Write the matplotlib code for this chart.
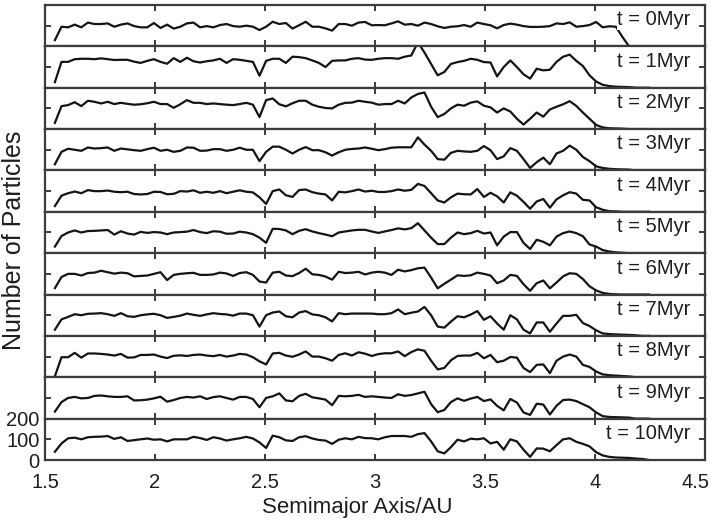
import numpy as np
import matplotlib
matplotlib.use("Agg")
import matplotlib.pyplot as plt
from matplotlib.transforms import ScaledTranslation

plt.rcParams['font.family'] = ['Liberation Sans', 'DejaVu Sans']

# Histogram bins in semimajor axis (AU): bin centres, 0.03 AU wide
bin_start = 1.545
bin_width = 0.03
n_bins = 91
semimajor = bin_start + bin_width * np.arange(n_bins)

time_labels = ["t = 0Myr", "t = 1Myr", "t = 2Myr", "t = 3Myr", "t = 4Myr",
               "t = 5Myr", "t = 6Myr", "t = 7Myr", "t = 8Myr", "t = 9Myr",
               "t = 10Myr"]

counts_0 = [30, 95, 92, 105, 92, 115, 108, 108, 111, 95,
            105, 111, 98, 92, 92, 113, 89, 105, 86, 95,
            111, 115, 92, 98, 92, 103, 108, 98, 95, 100,
            95, 79, 95, 119, 108, 113, 86, 102, 119, 95,
            95, 87, 76, 108, 108, 100, 115, 118, 102, 103,
            102, 111, 121, 105, 108, 100, 115, 108, 97, 89,
            95, 97, 103, 95, 115, 108, 102, 87, 103, 110,
            105, 98, 94, 94, 95, 98, 111, 108, 116, 95,
            98, 103, 118, 92, 97, 95, 45, 0, 0, 0, 0]
counts_1 = [27, 125, 125, 138, 140, 140, 138, 142, 138, 134,
            135, 135, 126, 120, 130, 138, 125, 116, 143, 125,
            145, 128, 122, 128, 132, 140, 120, 138, 135, 130,
            125, 58, 130, 140, 140, 120, 150, 148, 143, 132,
            120, 100, 130, 132, 132, 140, 143, 136, 135, 140,
            143, 143, 140, 150, 156, 220, 170, 115, 60, 76,
            115, 124, 130, 140, 135, 124, 122, 55, 100, 132,
            100, 65, 44, 92, 84, 87, 125, 150, 160, 130,
            105, 60, 30, 14, 8, 5, 4, 3, 0, 0, 0]
counts_2 = [30, 111, 116, 130, 111, 137, 132, 124, 132, 121,
            127, 122, 118, 120, 125, 132, 121, 121, 103, 120,
            140, 127, 127, 121, 124, 121, 118, 116, 121, 127,
            118, 58, 140, 148, 120, 110, 125, 137, 137, 118,
            108, 102, 100, 118, 127, 128, 137, 132, 128, 118,
            121, 121, 137, 124, 153, 170, 177, 108, 58, 73,
            100, 118, 113, 128, 134, 113, 105, 80, 100, 85,
            50, 22, 50, 80, 60, 95, 108, 120, 135, 112,
            80, 50, 20, 8, 4, 3, 2, 0, 0, 0, 0]
counts_3 = [30, 90, 105, 100, 95, 111, 106, 108, 111, 95,
            106, 102, 98, 95, 103, 110, 95, 100, 90, 95,
            111, 110, 95, 96, 103, 103, 95, 100, 110, 100,
            100, 45, 90, 115, 115, 100, 82, 100, 113, 98,
            98, 88, 72, 88, 100, 104, 106, 111, 105, 98,
            103, 110, 112, 112, 112, 160, 125, 95, 55, 52,
            85, 95, 92, 90, 95, 118, 98, 55, 68, 108,
            95, 55, 12, 40, 62, 30, 82, 95, 120, 100,
            65, 45, 20, 12, 8, 6, 5, 4, 0, 0, 0]
counts_4 = [28, 78, 90, 98, 90, 105, 100, 100, 103, 97,
            95, 97, 86, 84, 86, 97, 96, 85, 87, 100,
            98, 104, 92, 97, 92, 100, 90, 97, 104, 97,
            94, 70, 38, 100, 108, 80, 72, 105, 108, 95,
            88, 84, 55, 97, 94, 100, 108, 98, 102, 96,
            96, 100, 108, 102, 106, 135, 125, 90, 55, 45,
            70, 88, 85, 84, 110, 72, 92, 75, 45, 94,
            78, 48, 15, 50, 62, 20, 60, 80, 95, 88,
            58, 55, 22, 10, 3, 2, 0, 0, 0, 0, 0]
counts_5 = [32, 83, 100, 110, 100, 107, 108, 110, 112, 90,
            106, 95, 90, 103, 98, 102, 100, 92, 100, 102,
            104, 112, 102, 97, 106, 104, 94, 95, 104, 100,
            92, 75, 50, 118, 117, 110, 92, 108, 116, 105,
            97, 90, 82, 100, 105, 110, 113, 113, 105, 98,
            105, 112, 120, 115, 121, 145, 110, 75, 44, 44,
            75, 100, 92, 97, 108, 95, 100, 38, 80, 102,
            102, 50, 20, 65, 55, 38, 80, 97, 105, 97,
            82, 42, 32, 15, 8, 4, 2, 0, 0, 0, 0]
counts_6 = [31, 85, 100, 100, 92, 104, 106, 115, 108, 101,
            106, 103, 88, 90, 92, 100, 108, 70, 95, 100,
            103, 105, 95, 95, 97, 106, 102, 90, 104, 108,
            95, 63, 58, 106, 110, 92, 89, 104, 125, 98,
            95, 87, 72, 110, 104, 106, 110, 97, 106, 110,
            106, 95, 120, 112, 118, 127, 130, 82, 30, 52,
            72, 93, 90, 93, 106, 100, 92, 55, 68, 95,
            90, 50, 18, 55, 68, 30, 58, 88, 103, 100,
            75, 40, 20, 8, 3, 1, 0, 0, 0, 0, 0]
counts_7 = [30, 80, 92, 105, 100, 107, 108, 110, 105, 97,
            110, 95, 92, 100, 104, 107, 100, 87, 92, 98,
            108, 102, 97, 104, 110, 106, 104, 98, 108, 108,
            100, 45, 100, 113, 118, 95, 90, 113, 120, 104,
            100, 90, 70, 110, 105, 108, 108, 108, 108, 105,
            105, 110, 128, 105, 112, 118, 140, 100, 45, 40,
            69, 95, 90, 103, 120, 78, 95, 60, 30, 100,
            80, 30, 12, 65, 65, 20, 60, 97, 97, 102,
            62, 48, 27, 12, 9, 7, 6, 5, 3, 0, 0]
counts_8 = [5, 97, 97, 118, 95, 115, 115, 113, 110, 105,
            113, 95, 96, 108, 108, 110, 100, 93, 104, 106,
            103, 108, 110, 105, 102, 108, 100, 105, 113, 110,
            97, 77, 62, 115, 118, 105, 99, 110, 125, 100,
            100, 92, 80, 108, 116, 105, 121, 114, 103, 112,
            116, 116, 125, 102, 122, 135, 128, 80, 38, 45,
            82, 103, 105, 105, 118, 92, 108, 73, 80, 98,
            95, 45, 25, 60, 62, 20, 80, 100, 110, 100,
            60, 50, 28, 14, 10, 8, 6, 4, 0, 0, 0]
counts_9 = [34, 80, 100, 105, 98, 100, 110, 112, 108, 105,
            105, 108, 88, 89, 92, 98, 106, 82, 90, 100,
            105, 102, 108, 95, 104, 108, 100, 92, 105, 105,
            95, 55, 100, 108, 122, 88, 84, 110, 120, 103,
            98, 92, 65, 110, 108, 110, 115, 105, 108, 105,
            102, 100, 118, 110, 114, 122, 130, 70, 31, 42,
            80, 98, 86, 97, 105, 85, 93, 62, 40, 95,
            78, 30, 18, 72, 68, 20, 62, 90, 92, 85,
            70, 55, 30, 12, 8, 7, 6, 5, 0, 0, 0]
counts_10 = [40, 80, 105, 108, 100, 110, 112, 113, 116, 102,
             110, 92, 96, 100, 104, 98, 100, 90, 100, 100,
             100, 112, 106, 97, 110, 104, 94, 100, 105, 112,
             104, 85, 58, 118, 110, 95, 92, 110, 115, 104,
             97, 94, 78, 98, 105, 100, 112, 106, 105, 100,
             110, 116, 116, 116, 112, 125, 130, 90, 42, 32,
             62, 98, 90, 103, 100, 105, 80, 88, 50, 100,
             90, 50, 15, 56, 55, 42, 72, 100, 105, 88,
             78, 66, 38, 22, 15, 12, 11, 10, 7, 5, 0]

snapshots = [counts_0, counts_1, counts_2, counts_3, counts_4, counts_5,
             counts_6, counts_7, counts_8, counts_9, counts_10]

x_ticks = [1.5, 2, 2.5, 3, 3.5, 4, 4.5]
x_tick_labels = ["1.5", "2", "2.5", "3", "3.5", "4", "4.5"]
y_ticks_bottom = [0, 100, 200]

frame_color = "#3c3c3c"
line_color = "#141414"
text_color = "#1e1e1e"

fig = plt.figure(figsize=(7.15, 5.23), dpi=100)
left, right = 45 / 715, 705 / 715
top, bottom = 1 - 5 / 523, 1 - 460 / 523
n_panels = len(snapshots)
panel_h = (top - bottom) / n_panels

for k, (label, counts) in enumerate(zip(time_labels, snapshots)):
    ax = fig.add_axes([left, top - (k + 1) * panel_h, right - left, panel_h])
    ax.plot(semimajor, counts, color=line_color, lw=1.6)
    ax.set_xlim(1.5, 4.5)
    ax.set_ylim(0, 200)
    ax.set_xticks(x_ticks)
    for sp in ax.spines.values():
        sp.set_color(frame_color)
        sp.set_linewidth(1.6)
    ax.tick_params(direction="in", top=True, right=True, length=4.5,
                   width=1.4, color=frame_color, labelsize=14.5,
                   labelcolor=text_color)
    if k < n_panels - 1:
        ax.set_yticks([100])
        ax.set_yticklabels([])
        ax.set_xticklabels([])
    else:
        ax.set_yticks(y_ticks_bottom)
        ax.set_yticklabels([str(v) for v in y_ticks_bottom])
        ax.set_xticklabels(x_tick_labels)
        ax.tick_params(axis="y", pad=4)
        ax.tick_params(axis="x", pad=9)
        # keep the last axis label inside the figure
        last = ax.get_xticklabels()[-1]
        last.set_transform(last.get_transform() +
                           ScaledTranslation(-9 / 100, 0, fig.dpi_scale_trans))
    ax.text(0.978, 0.64, label, transform=ax.transAxes, ha="right",
            va="center", fontsize=14.5, color=text_color, zorder=5,
            bbox=dict(facecolor="white", edgecolor="none", pad=0.5))

fig.text(357 / 715, 1 - 507 / 523, "Semimajor Axis/AU", ha="center",
         va="center", fontsize=16, color=text_color)
fig.text(14 / 715, 1 - 240 / 523, "Number of Particles", ha="center",
         va="center", rotation=90, fontsize=18, color=text_color)

fig.savefig("out.png", dpi=100)
